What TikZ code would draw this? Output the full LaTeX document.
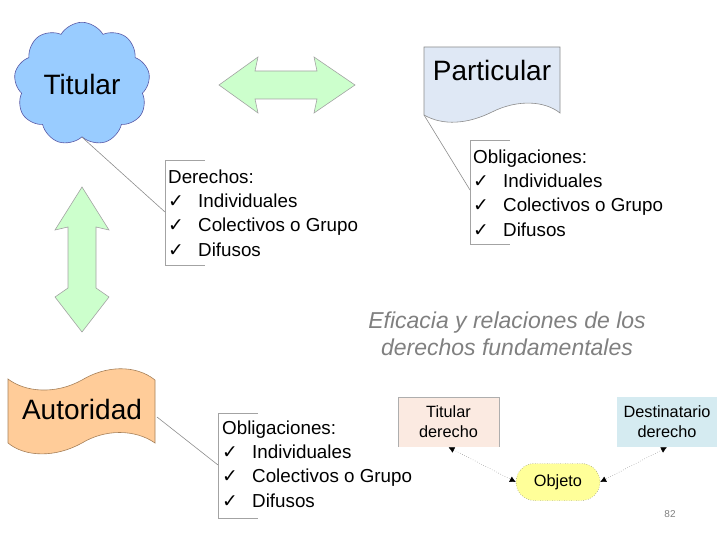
\documentclass[tikz,border=0pt]{standalone}
\usepackage{fontspec}
\setmainfont{Liberation Sans}
\newfontfamily\symfont{DejaVu Sans}
\usetikzlibrary{arrows.meta,calc,shapes.symbols,shapes.misc}

\definecolor{cloudblue}{HTML}{99CCFF}
\definecolor{partblue}{HTML}{DFE8F5}
\definecolor{autorange}{HTML}{FFCC99}
\definecolor{arrowgreen}{HTML}{CCFFCC}
\definecolor{peach}{HTML}{FBEAE1}
\definecolor{paleblue}{HTML}{D5EBF1}
\definecolor{objyellow}{HTML}{FFFF99}
\definecolor{linegray}{HTML}{8C8C8C}

\newcommand{\chk}[1]{\makebox[30pt][l]{\symfont ✓}#1}

\begin{document}
\begin{tikzpicture}[x=1pt,y=-1pt,
  bigtext/.style={inner sep=0,font=\fontsize{28}{30}\selectfont},
  listtext/.style={anchor=north west,inner sep=0,align=left,font=\fontsize{18.8}{24.3}\selectfont},
  boxtext/.style={inner sep=0,align=center,font=\fontsize{16.3}{20}\selectfont},
  link/.style={linegray,line width=0.6pt},
  bracket/.style={linegray!80,line width=0.8pt},
  dblarrow/.style={fill=arrowgreen,draw=linegray!80,line width=0.6pt},
  dotlink/.style={dotted,black!70,{Latex[length=6pt,width=6pt,black]}-{Latex[length=6pt,width=6pt,black]}}]
\useasboundingbox (0,0) rectangle (720,540);
% Titular (cloud)
\node[bigtext,cloud,cloud puffs=9,cloud puff arc=120,draw=gray!70!blue,fill=cloudblue,
  line width=0.6pt,minimum width=136pt,minimum height=116pt] (titular) at (82,84) {Titular};
% Particular (document)
\draw[fill=partblue,draw=linegray,line width=0.6pt] (424,47) -- (560,47) -- (560,113)
  .. controls (545,101) and (518,99) .. (492,112)
  .. controls (468,124) and (443,126) .. (424,115) -- cycle;
\node[bigtext] (particular) at (492,70) {Particular};
\coordinate (partcorner) at (424,115);
% Autoridad (flag)
\draw[fill=autorange,draw=gray!70!orange,line width=0.6pt] (8,379)
  .. controls (25,392) and (55,395) .. (82,380)
  .. controls (105,366) and (135,364) .. (155,380) -- (155,443)
  .. controls (135,429) and (105,429) .. (82,443)
  .. controls (55,458) and (25,457) .. (8,443) -- cycle;
\node[bigtext] (autoridad) at (82,409) {Autoridad};
\coordinate (autcorner) at (157,417);
% double arrows
\draw[dblarrow] (219,85) -- (258,57) -- (255,71) -- (317,71) -- (314,57) -- (355,85)
  -- (314,113) -- (317,99) -- (255,99) -- (258,113) -- cycle;
\draw[dblarrow] (82,187) -- (109,230) -- (96,227) -- (96,288) -- (109,297) -- (82,332)
  -- (55,297) -- (68,288) -- (68,227) -- (55,230) -- cycle;
% lists
\draw[bracket] (205,160) -- (165,160) -- (165,265) -- (205,265);
\coordinate (derb) at (165,212);
\node[listtext] (derlist) at (168,169.5) {Derechos:\\ \chk{Individuales}\\ \chk{Colectivos o Grupo}\\ \chk{Difusos}};
\draw[bracket] (510,140) -- (470,140) -- (470,244) -- (510,244);
\coordinate (partb) at (470,190);
\node[listtext] (partlist) at (473,149.5) {Obligaciones:\\ \chk{Individuales}\\ \chk{Colectivos o Grupo}\\ \chk{Difusos}};
\draw[bracket] (258,413) -- (218,413) -- (218,518) -- (258,518);
\coordinate (autb) at (218,465);
\node[listtext] (autlist) at (222,420.5) {Obligaciones:\\ \chk{Individuales}\\ \chk{Colectivos o Grupo}\\ \chk{Difusos}};
\draw[link] (titular.south) -- (derb);
\draw[link] (partcorner) -- (partb);
\draw[link] (autcorner) -- (autb);
% title
\node[inner sep=0,align=center,text=gray,font=\fontsize{23}{27}\selectfont\itshape] (title) at (507,334)
  {Eficacia y relaciones de los\\derechos fundamentales};
% small diagram
\node[boxtext,fill=peach,minimum width=101pt,minimum height=50pt] (titbox) at (448.5,422) {Titular\\derecho};
\draw[linegray!70,line width=0.6pt] (titbox.south west) -- (titbox.north west) -- (titbox.north east) -- (titbox.south east);
\node[boxtext,fill=paleblue,minimum width=100pt,minimum height=50pt] (destbox) at (667,422) {Destinatario\\derecho};
\node[boxtext,rounded rectangle,fill=objyellow,draw=black!70,dotted,minimum width=84pt,minimum height=37pt] (objeto) at (558,482) {Objeto};
\draw[dotlink] (titbox.south) -- (objeto.west);
\draw[dotlink] (destbox.south) -- (objeto.east);
\node[inner sep=0,text=gray,font=\fontsize{10}{12}\selectfont] (pagenum) at (670,514) {82};
\end{tikzpicture}
\end{document}
